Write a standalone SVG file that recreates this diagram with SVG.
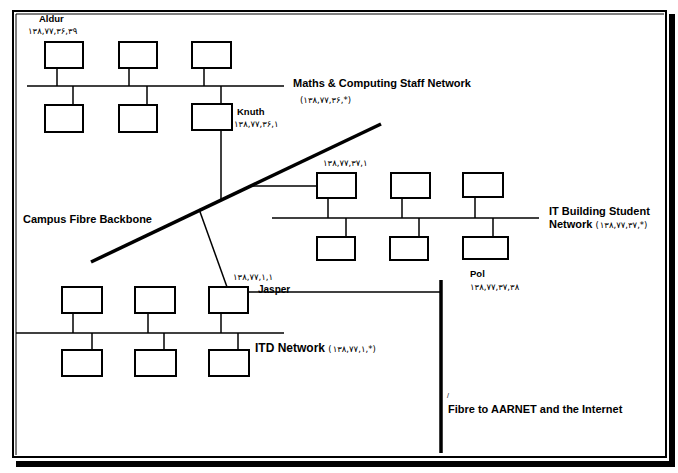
<svg xmlns="http://www.w3.org/2000/svg" width="678" height="473" viewBox="0 0 678 473">
<style>
.bx{fill:#fff;stroke:#000;stroke-width:2}
.ln{stroke:#000;stroke-width:1.5;fill:none}
.bus{stroke:#000;stroke-width:1.6;fill:none}
.t{font-family:"Liberation Sans",Arial,sans-serif;font-size:11px;fill:#000}
.b{font-weight:bold}
.n{font-family:"Liberation Sans",Arial,sans-serif;font-size:9.5px;font-weight:bold;fill:#000}
.ip{font-family:"DejaVu Sans","Noto Sans",sans-serif;font-size:8.5px;font-weight:normal;letter-spacing:1px;fill:#000}
</style>
<rect width="678" height="473" fill="#fff"/>
<g id="frame">
<rect x="13" y="11" width="653" height="446" fill="none" stroke="#000" stroke-width="2"/>
<line x1="16" y1="14" x2="16" y2="455" stroke="#000" stroke-width="1"/>
<line x1="16" y1="14" x2="664" y2="14" stroke="#000" stroke-width="1"/>
<rect x="669" y="14" width="6" height="453" fill="#000"/>
<rect x="16" y="461" width="659" height="6" fill="#000"/>
</g>
<g id="connectors">
<line class="bus" x1="27" y1="86" x2="284" y2="86"/>
<line class="ln" x1="57" y1="68" x2="57" y2="86"/>
<line class="ln" x1="129" y1="68" x2="129" y2="86"/>
<line class="ln" x1="204" y1="68" x2="204" y2="86"/>
<line class="ln" x1="73" y1="86" x2="73" y2="105"/>
<line class="ln" x1="147" y1="86" x2="147" y2="105"/>
<line class="ln" x1="221" y1="86" x2="221" y2="104"/>
<line class="ln" x1="221" y1="130" x2="221" y2="199"/>
<line x1="91" y1="262" x2="381" y2="124" stroke="#000" stroke-width="3.5"/>
<line class="ln" x1="253" y1="186" x2="317" y2="186"/>
<line class="bus" x1="272" y1="218" x2="539" y2="218"/>
<line class="ln" x1="328" y1="198" x2="328" y2="218"/>
<line class="ln" x1="402" y1="198" x2="402" y2="218"/>
<line class="ln" x1="475" y1="198" x2="475" y2="218"/>
<line class="ln" x1="346" y1="218" x2="346" y2="237"/>
<line class="ln" x1="419" y1="218" x2="419" y2="237"/>
<line class="ln" x1="493" y1="218" x2="493" y2="237"/>
<line class="ln" x1="199" y1="209" x2="227" y2="287"/>
<line class="ln" x1="249" y1="292" x2="441" y2="292"/>
<line x1="441" y1="280" x2="441" y2="453" stroke="#000" stroke-width="3.5"/>
<line class="bus" x1="16" y1="333" x2="284" y2="333"/>
<line class="ln" x1="73" y1="313" x2="73" y2="333"/>
<line class="ln" x1="148" y1="313" x2="148" y2="333"/>
<line class="ln" x1="221" y1="313" x2="221" y2="333"/>
<line class="ln" x1="92" y1="333" x2="92" y2="350"/>
<line class="ln" x1="164" y1="333" x2="164" y2="350"/>
<line class="ln" x1="238" y1="333" x2="238" y2="350"/>
</g>
<g id="aldur"><rect class="bx" x="45" y="42" width="38" height="26"/><text class="n" x="39" y="22">Aldur</text><text class="ip" x="28" y="34">۱۳۸,۷۷,۳۶,۳۹</text></g>
<g id="mc2"><rect class="bx" x="119" y="42" width="38" height="26"/></g>
<g id="mc3"><rect class="bx" x="192" y="42" width="39" height="26"/></g>
<g id="mc4"><rect class="bx" x="45" y="105" width="38" height="27"/></g>
<g id="mc5"><rect class="bx" x="119" y="105" width="38" height="27"/></g>
<g id="knuth"><rect class="bx" x="192" y="104" width="40" height="26"/><text class="n" x="237" y="115">Knuth</text><text class="ip" x="234" y="127">۱۳۸,۷۷,۳۶,۱</text></g>
<g id="maths-net"><text class="t b" x="293" y="87">Maths &amp; Computing Staff Network</text><text class="ip" x="300" y="103">(۱۳۸,۷۷,۳۶,*)</text></g>
<g id="backbone"><text class="t b" x="23" y="223">Campus Fibre Backbone</text></g>
<g id="it1"><rect class="bx" x="317" y="173" width="39" height="25"/><text class="ip" x="323" y="166">۱۳۸,۷۷,۳۷,۱</text></g>
<g id="it2"><rect class="bx" x="391" y="173" width="39" height="25"/></g>
<g id="it3"><rect class="bx" x="463" y="173" width="40" height="24"/></g>
<g id="it4"><rect class="bx" x="317" y="237" width="38" height="23"/></g>
<g id="it5"><rect class="bx" x="390" y="237" width="38" height="23"/></g>
<g id="pol"><rect class="bx" x="463" y="237" width="45" height="22"/><text class="n" x="470" y="277">Pol</text><text class="ip" x="470" y="290">۱۳۸,۷۷,۳۷,۳۸</text></g>
<g id="it-net"><text class="t b" x="549" y="215">IT Building Student</text><text class="t" x="549" y="228"><tspan class="b">Network</tspan> <tspan class="ip">(۱۳۸,۷۷,۳۷,*)</tspan></text></g>
<g id="itd1"><rect class="bx" x="62" y="287" width="40" height="26"/></g>
<g id="itd2"><rect class="bx" x="135" y="287" width="40" height="26"/></g>
<g id="jasper"><rect class="bx" x="209" y="287" width="39" height="26"/><text class="ip" x="233" y="280">۱۳۸,۷۷,۱,۱</text><text class="n" x="258" y="293" style="font-size:10px">Jasper</text></g>
<g id="itd4"><rect class="bx" x="62" y="350" width="40" height="26"/></g>
<g id="itd5"><rect class="bx" x="135" y="350" width="41" height="26"/></g>
<g id="itd6"><rect class="bx" x="209" y="350" width="40" height="26"/></g>
<g id="itd-net"><text class="t b" x="255" y="352" style="font-size:12px">ITD Network <tspan class="ip">(۱۳۸,۷۷,۱,*)</tspan></text></g>
<g id="fibre"><text class="t" x="447" y="398" style="font-size:7px">/</text><text class="t b" x="448" y="413">Fibre to AARNET and the Internet</text></g>
</svg>
